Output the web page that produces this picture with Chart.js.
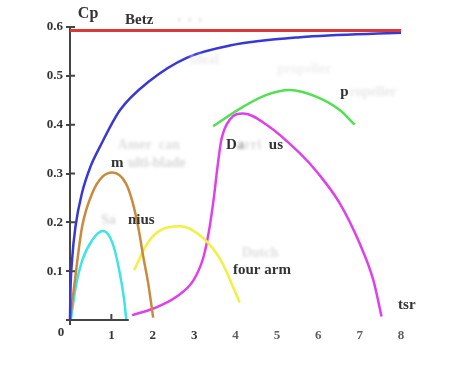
<!DOCTYPE html>
<html>
<head>
<meta charset="utf-8">
<script src="https://cdn.jsdelivr.net/npm/chart.js@4.4.1/dist/chart.umd.min.js"></script>
<style>
  html, body { margin: 0; padding: 0; background: #ffffff; }
  #wrap { width: 458px; height: 367px; position: relative; }
</style>
</head>
<body>
<div id="wrap"><canvas id="cp" width="458" height="367"></canvas></div>
<script>
// Power coefficient (Cp) against tip speed ratio (tsr) for several rotor types
const xTickLabels = ['0', '1', '2', '3', '4', '5', '6', '7', '8'];
const yTickLabels = ['0', '0.1', '0.2', '0.3', '0.4', '0.5', '0.6'];

const betzTsr = [0, 8];
const betzCp  = [0.593, 0.593];

const idealTsr = [0, 0.01, 0.05, 0.13, 0.29, 0.5, 0.725, 1.21, 1.93, 2.82, 3.86, 5.56, 8];
const idealCp  = [0, 0.055, 0.123, 0.19, 0.26, 0.315, 0.355, 0.43, 0.49, 0.537, 0.562, 0.579, 0.588];

const multiTsr = [0, 0.13, 0.29, 0.54, 0.78, 1.03, 1.35, 1.5, 1.65, 1.77, 1.89, 2.01];
const multiCp  = [0, 0.089, 0.19, 0.26, 0.293, 0.302, 0.28, 0.245, 0.19, 0.13, 0.075, 0.005];

const savoniusTsr = [0.02, 0.14, 0.3, 0.54, 0.8, 1.03, 1.19, 1.31, 1.36];
const savoniusCp  = [0, 0.068, 0.123, 0.164, 0.182, 0.157, 0.102, 0.041, 0];

const fourArmTsr = [1.55, 1.87, 2.19, 2.67, 3.23, 3.64, 4.04, 4.1];
const fourArmCp  = [0.102, 0.157, 0.184, 0.192, 0.167, 0.123, 0.048, 0.036];

const darrieusTsr = [1.5, 2.03, 2.58, 2.99, 3.23, 3.35, 3.47, 3.56, 3.66, 3.86, 4.19, 4.75, 5.56, 6.0, 6.52, 7.0, 7.33, 7.53];
const darrieusCp  = [0.01, 0.024, 0.048, 0.082, 0.13, 0.178, 0.246, 0.31, 0.37, 0.41, 0.423, 0.40, 0.341, 0.30, 0.239, 0.157, 0.082, 0.007];

const propTsr = [3.46, 4.19, 4.75, 5.31, 5.96, 6.52, 6.88];
const propCp  = [0.397, 0.437, 0.461, 0.471, 0.457, 0.43, 0.40];

const pts = (xs, ys) => xs.map((x, i) => ({ x: x, y: ys[i] }));

const SERIF = '"Liberation Serif", "DejaVu Serif", serif';
const INK = '#333333';

function curve(label, xs, ys, color, width) {
  return {
    label: label,
    data: pts(xs, ys),
    borderColor: color,
    backgroundColor: color,
    borderWidth: width,
    pointRadius: 0,
    fill: false,
    cubicInterpolationMode: 'monotone',
    clip: false
  };
}

// Axis details and in-plot captions
const decorations = {
  id: 'decorations',
  afterDatasetsDraw(chart) {
    const ctx = chart.ctx;
    const xs = chart.scales.x, ys = chart.scales.y;
    const X = v => xs.getPixelForValue(v);
    const Y = v => ys.getPixelForValue(v);
    const left = X(0), bottom = Y(0);

    ctx.save();
    ctx.strokeStyle = '#444444';
    ctx.lineWidth = 2;
    // inner half of the y tick marks
    ctx.beginPath();
    for (let i = 1; i < yTickLabels.length; i++) {
      const y = Y(parseFloat(yTickLabels[i]));
      ctx.moveTo(left, y); ctx.lineTo(left + 5, y);
    }
    // short x axis stub, tick at 1 and the axis foot
    ctx.moveTo(left - 2, bottom); ctx.lineTo(X(1.42), bottom);
    ctx.moveTo(X(1), bottom); ctx.lineTo(X(1), bottom - 6);
    ctx.moveTo(left, bottom); ctx.lineTo(left, bottom + 5);
    ctx.stroke();

    // origin label
    ctx.fillStyle = INK;
    ctx.font = 'bold 13px ' + SERIF;
    ctx.textAlign = 'center';
    ctx.textBaseline = 'alphabetic';
    ctx.fillText(xTickLabels[0], left - 9, bottom + 16);

    // faded remnants of longer captions
    ctx.filter = 'blur(1.5px)';
    ctx.font = 'bold 14px ' + SERIF;
    ctx.textAlign = 'left';
    const faint = [
      ['.  .  .', 2.6, 0.612, '#c8c8c8'],
      ['Amer  can', 1.15, 0.35, '#dddddd'],
      ['ulti-blade', 1.4, 0.313, '#d6d6d6'],
      ['Sa', 0.75, 0.197, '#d6d6d6'],
      ['Dutch', 4.15, 0.13, '#dedede'],
      ['ropeller', 6.75, 0.459, '#e8e8e8'],
      ['ideal', 2.9, 0.525, '#ececec'],
      ['propeller', 5.0, 0.505, '#efefef']
    ];
    faint.forEach(f => { ctx.fillStyle = f[3]; ctx.fillText(f[0], X(f[1]), Y(f[2])); });
    ctx.font = 'bold 15px ' + SERIF;
    ctx.fillStyle = '#9a9a9a';
    ctx.fillText('a', X(3.77) + 11, Y(0.351));
    ctx.fillStyle = '#dddddd';
    ctx.fillText('rri', X(3.77) + 18, Y(0.351));
    ctx.filter = 'none';

    // captions
    ctx.fillStyle = INK;
    const captions = [
      ['Cp', 0.19, 0.618, 16],
      ['Betz', 1.33, 0.606, 15],
      ['m', 0.99, 0.313, 15],
      ['nius', 1.40, 0.197, 15],
      ['D', 3.77, 0.351, 15],
      ['p', 6.53, 0.459, 15],
      ['four arm', 3.94, 0.094, 15],
      ['tsr', 7.93, 0.0225, 15]
    ];
    captions.forEach(c => {
      ctx.font = 'bold ' + c[3] + 'px ' + SERIF;
      ctx.fillText(c[0], X(c[1]), Y(c[2]));
    });
    ctx.font = 'bold 15px ' + SERIF;
    ctx.textAlign = 'right';
    ctx.fillText('us', X(3.77) + 57, Y(0.351));
    ctx.restore();
  }
};

new Chart(document.getElementById('cp'), {
  type: 'line',
  data: {
    datasets: [
      curve('Betz', betzTsr, betzCp, '#dd3838', 3),
      curve('ideal', idealTsr, idealCp, '#3838d6', 2.5),
      curve('multi-blade', multiTsr, multiCp, '#c98a3e', 2.5),
      curve('Savonius', savoniusTsr, savoniusCp, '#3ee4e8', 2.5),
      curve('Dutch four arm', fourArmTsr, fourArmCp, '#f2f040', 2.5),
      curve('Darrieus', darrieusTsr, darrieusCp, '#e040ec', 2.5),
      curve('propeller', propTsr, propCp, '#52e052', 2.5)
    ]
  },
  options: {
    responsive: false,
    animation: false,
    devicePixelRatio: 1,
    layout: { padding: { top: 27, right: 57, left: 0, bottom: 0 } },
    plugins: { legend: { display: false }, tooltip: { enabled: false } },
    scales: {
      x: {
        type: 'linear',
        min: 0, max: 8,
        afterFit(scale) { scale.height = 47; },
        border: { display: false },
        grid: { display: false },
        ticks: {
          stepSize: 1,
          padding: 0,
          font: { family: SERIF, size: 13, weight: 'bold' },
          color: ctx => (ctx.index <= 3 ? INK : '#5e5e5e'),
          callback: v => (v === 0 ? '' : xTickLabels[v])
        }
      },
      y: {
        type: 'linear',
        min: 0, max: 0.6,
        afterFit(scale) { scale.width = 70; },
        border: { display: true, color: '#444444', width: 2 },
        grid: { drawOnChartArea: false, drawTicks: true, tickLength: 4, color: '#444444', lineWidth: 2 },
        ticks: {
          stepSize: 0.1,
          padding: 3,
          font: { family: SERIF, size: 13, weight: 'bold' },
          color: INK,
          callback: v => {
            const i = Math.round(v * 10);
            return i === 0 ? '' : yTickLabels[i];
          }
        }
      }
    }
  },
  plugins: [decorations]
});
</script>
</body>
</html>
